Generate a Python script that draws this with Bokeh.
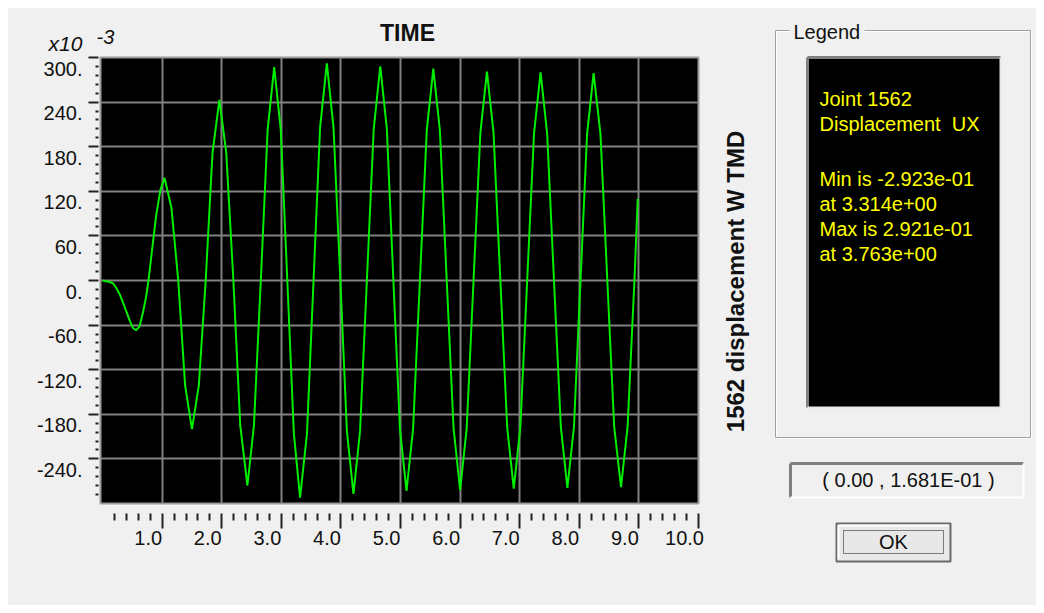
import numpy as np
from bokeh.plotting import figure
from bokeh.models import Range1d, FixedTicker, LinearAxis, Spacer
from bokeh.layouts import row, column
from bokeh.embed import file_html
from bokeh.resources import INLINE
from bokeh.core.properties import value

# ---------------- data ----------------
time_s = [0.00, 0.12, 0.18, 0.23, 0.29, 0.35, 0.40, 0.46, 0.51, 0.56, 0.62, 0.68, 0.73, 0.77,
          0.83, 0.90, 0.97, 1.04,
          1.155, 1.27, 1.385, 1.50,
          1.615, 1.73, 1.845, 1.96,
          2.075, 2.195, 2.31, 2.43,
          2.54, 2.655, 2.77, 2.88,
          2.99, 3.10, 3.21, 3.314,
          3.43, 3.54, 3.65, 3.763,
          3.875, 3.99, 4.10, 4.21,
          4.32, 4.435, 4.55, 4.66,
          4.77, 4.88, 4.99, 5.10,
          5.21, 5.325, 5.44, 5.55,
          5.66, 5.775, 5.89, 6.00,
          6.11, 6.225, 6.34, 6.45,
          6.56, 6.675, 6.79, 6.90,
          7.01, 7.125, 7.24, 7.35,
          7.46, 7.575, 7.69, 7.80,
          7.91, 8.02, 8.13, 8.24,
          8.355, 8.47, 8.585, 8.70,
          8.81, 8.925, 8.98]
disp_e3 = [0, -2, -4, -10, -19, -31, -42, -55, -64, -67, -62, -42, -22, 0,
           41, 88, 122, 138,
           98, 0, -141, -200,
           -141, 0, 172, 243,
           172, 0, -195, -276,
           -195, 0, 203, 287,
           203, 0, -206, -292,
           -206, 0, 206, 292,
           206, 0, -203, -287,
           -203, 0, 204, 288,
           204, 0, -200, -283,
           -200, 0, 202, 285,
           202, 0, -199, -282,
           -199, 0, 199, 281,
           199, 0, -198, -280,
           -198, 0, 198, 280,
           198, 0, -197, -279,
           -197, 0, 197, 279,
           197, 0, -197, -278,
           -197, 0, 110]

x_tick_values = [1, 2, 3, 4, 5, 6, 7, 8, 9, 10]
x_tick_labels = ["1.0", "2.0", "3.0", "4.0", "5.0", "6.0", "7.0", "8.0", "9.0", "10.0"]
y_tick_values = [300, 240, 180, 120, 60, 0, -60, -120, -180, -240]
y_tick_labels = ["300.", "240.", "180.", "120.", "60.", "0.", "-60.", "-120.", "-180.", "-240."]
scale_base = "x10"
scale_exp = "-3"
title_text = "TIME"
side_label = "1562 displacement W TMD"
legend_title = "Legend"
legend_lines = ["Joint 1562", "Displacement\u00a0\u00a0UX", "Min is -2.923e-01", "at 3.314e+00",
                "Max is 2.921e-01", "at 3.763e+00"]
cursor_text = "( 0.00 , 1.681E-01 )"
button_text = "OK"

# ---------------- layout constants ----------------
FONT = "Liberation Sans"
INK = "#111111"
BG = "#f0f0f0"
X0, X1 = -0.035, 10.0
Y0, Y1 = -300, 300
FW, FH = 598, 446            # frame size in px
TOP_H = 46                   # top strip height
ML, MR, MT = 92, 14, 3
MB = 102
MAIN_W = ML + FW + MR
MAIN_H = MT + FH + MB
SIDE_W = 1036 - 8 - MAIN_W
SIDE_H = TOP_H + MAIN_H

kx = (X1 - X0) / FW          # data units per px
ky = (Y1 - Y0) / FH


def panel(w, h):
    f = figure(width=w, height=h, x_range=Range1d(0, w), y_range=Range1d(h, 0),
               output_backend="svg", toolbar_location=None, min_border=0,
               x_axis_location=None, y_axis_location=None,
               background_fill_color=BG, border_fill_color=BG, outline_line_color=None,
               frame_align=False)
    f.xgrid.visible = False
    f.ygrid.visible = False
    return f


# ---------------- top strip (title + scale factor) ----------------
top = panel(MAIN_W, TOP_H)
top.text(x=[399], y=[24], text=[title_text], text_font=value(FONT), text_font_size="23px",
         text_font_style="bold", text_align="center", text_baseline="middle", text_color=INK)
top.text(x=[40], y=[35], text=[scale_base], text_font=value(FONT), text_font_size="21px",
         text_font_style="italic", text_align="left", text_baseline="middle", text_color=INK)
top.text(x=[88], y=[28], text=[scale_exp], text_font=value(FONT), text_font_size="20px",
         text_font_style="italic", text_align="left", text_baseline="middle", text_color=INK)

# ---------------- main chart ----------------
main = figure(width=MAIN_W, height=MAIN_H, x_range=Range1d(X0, X1), y_range=Range1d(Y0, Y1),
              output_backend="svg", toolbar_location=None,
              min_border_left=ML, min_border_right=MR, min_border_top=MT, min_border_bottom=MB,
              background_fill_color="black", border_fill_color=BG,
              outline_line_color="#9a9a9a", outline_line_width=2, frame_align=False)

minor_x = [round(v * 0.2, 3) for v in range(1, 50) if v % 5 != 0]
minor_y = [v for v in range(-300, 301, 12) if v % 60 != 0]

main.xaxis.ticker = FixedTicker(ticks=x_tick_values, minor_ticks=minor_x)
main.yaxis.ticker = FixedTicker(ticks=y_tick_values, minor_ticks=minor_y)
for ax in (main.xaxis, main.yaxis):
    ax.axis_line_color = None
    ax.major_label_text_color = None
    ax.major_label_text_font_size = "0px"
    ax.major_label_standoff = 0
    ax.major_tick_line_color = "#222222"
    ax.minor_tick_line_color = "#222222"
    ax.major_tick_line_width = 2
    ax.minor_tick_line_width = 2
main.xaxis.major_tick_in = -10
main.xaxis.major_tick_out = 25
main.xaxis.minor_tick_in = -10
main.xaxis.minor_tick_out = 17
main.yaxis.major_tick_in = -2
main.yaxis.major_tick_out = 12
main.yaxis.minor_tick_in = -2
main.yaxis.minor_tick_out = 5

# label axes: shifted ranges put the labels right-aligned to / below their ticks
main.extra_x_ranges = {"xlab": Range1d(X0 + 14 * kx, X1 + 14 * kx)}
main.extra_y_ranges = {"ylab": Range1d(Y0 + 11 * ky, Y1 + 11 * ky)}
xlab = LinearAxis(x_range_name="xlab",
                  ticker=FixedTicker(ticks=x_tick_values, minor_ticks=[]),
                  major_label_overrides=dict(zip(x_tick_values, x_tick_labels)))
ylab = LinearAxis(y_range_name="ylab",
                  ticker=FixedTicker(ticks=y_tick_values, minor_ticks=[]),
                  major_label_overrides=dict(zip(y_tick_values, y_tick_labels)))
for ax in (xlab, ylab):
    ax.axis_line_color = None
    ax.major_tick_line_color = None
    ax.minor_tick_line_color = None
    ax.major_tick_in = 0
    ax.major_tick_out = 0
    ax.minor_tick_in = 0
    ax.minor_tick_out = 0
    ax.major_label_text_font = FONT
    ax.major_label_text_font_size = "20px"
    ax.major_label_text_color = INK
xlab.major_label_standoff = 2
ylab.major_label_standoff = 6
main.add_layout(xlab, "below")
main.add_layout(ylab, "left")

main.xgrid.ticker = FixedTicker(ticks=x_tick_values[:-1])
main.ygrid.ticker = FixedTicker(ticks=y_tick_values[1:])
for g in (main.xgrid, main.ygrid):
    g.grid_line_color = "#808080"
    g.grid_line_width = 2

main.line(time_s, disp_e3, line_color="#00ee00", line_width=2)

# ---------------- side panel (pixel coordinates) ----------------
side = panel(SIDE_W, SIDE_H)

side.text(x=[23], y=[273], text=[side_label], angle=np.pi / 2, text_font=value(FONT),
          text_font_size="24px", text_font_style="bold", text_align="center",
          text_baseline="middle", text_color=INK)

# group box
side.quad(left=[64], right=[319], top=[23], bottom=[430], fill_color=None, line_color="white", line_width=1)
side.quad(left=[63], right=[318], top=[22], bottom=[429], fill_color=None, line_color="#a0a0a0", line_width=1)
side.quad(left=[77], right=[152], top=[12], bottom=[33], fill_color=BG, line_color=None)
side.text(x=[81], y=[23], text=[legend_title], text_font=value(FONT), text_font_size="20px",
          text_align="left", text_baseline="middle", text_color=INK)

# black legend box
side.quad(left=[95], right=[288], top=[49], bottom=[399], fill_color="black", line_color=None)
side.segment(x0=[95, 95], y0=[49, 49], x1=[288, 95], y1=[49, 399], line_color="#808080", line_width=3)
side.segment(x0=[95, 288], y0=[399, 49], x1=[288, 288], y1=[399, 399], line_color="#e8e8e8", line_width=2)
legend_y = [90, 115, 170, 195, 220, 245]
side.text(x=[107] * len(legend_lines), y=legend_y, text=legend_lines, text_font=value(FONT),
          text_font_size="20px", text_align="left", text_baseline="middle", text_color="#ffff00")

# cursor readout box
side.quad(left=[78], right=[311], top=[455], bottom=[489], fill_color=BG, line_color=None)
side.segment(x0=[78, 78], y0=[455, 455], x1=[311, 78], y1=[455, 489], line_color="#808080", line_width=3)
side.segment(x0=[78, 311], y0=[489, 455], x1=[311, 311], y1=[489, 489], line_color="#ffffff", line_width=2)
side.text(x=[196], y=[471], text=[cursor_text], text_font=value(FONT), text_font_size="20px",
          text_align="center", text_baseline="middle", text_color=INK)

# OK button (raised)
side.quad(left=[124], right=[238], top=[515], bottom=[553], fill_color="#e8e8e8",
          line_color="#6a6a6a", line_width=2)
side.segment(x0=[126, 126], y0=[517, 517], x1=[236, 126], y1=[517, 551], line_color="#ffffff", line_width=2)
side.quad(left=[131], right=[231], top=[522], bottom=[545], fill_color=None,
          line_color=INK, line_width=1, line_dash="1 1")
side.text(x=[181], y=[533], text=[button_text], text_font=value(FONT), text_font_size="20px",
          text_align="center", text_baseline="middle", text_color=INK)

inner = row(column(top, main, styles={"background-color": BG}), side,
            styles={"background-color": BG})
layout = column(Spacer(height=8), row(Spacer(width=8), inner))
open("out.html", "w").write(file_html(layout, INLINE))
